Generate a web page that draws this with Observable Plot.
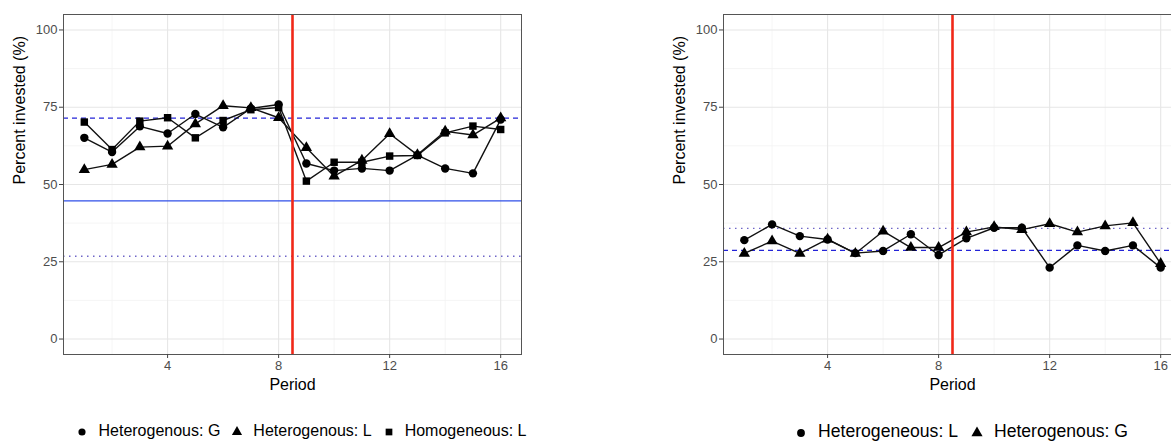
<!DOCTYPE html>
<html>
<head>
<meta charset="utf-8">
<script src="https://cdn.jsdelivr.net/npm/d3@7"></script>
<script src="https://cdn.jsdelivr.net/npm/@observablehq/plot@0.6"></script>
<style>
  html, body { margin: 0; padding: 0; background: white; }
  #wrap { position: relative; width: 1171px; height: 441px; overflow: hidden; font-family: "Liberation Sans", Arial, sans-serif; }
  .fig { position: absolute; top: 0; width: 660px; height: 441px; }
  .legend { position: absolute; left: 0; width: 604px; top: 421px; text-align: center; font-size: 16px; color: #000; white-space: nowrap; line-height: 20px; }
  .legend span.item { display: inline-block; margin: 0 6px; }
  .legend svg { vertical-align: -1px; margin-right: 11px; }
  .legend.big { font-size: 17.6px; }
  .legend.big span.item { margin: 0 7px; }
  .legend.big svg { margin-right: 12px; }
</style>
</head>
<body>
<div id="wrap"></div>
<script>
// ---- data ----
const periods = [1,2,3,4,5,6,7,8,9,10,11,12,13,14,15,16];

// Left panel
const leftNames = ["Heterogenous: G", "Heterogenous: L", "Homogeneous: L"];
const leftHetG = [65.1, 60.5, 68.8, 66.5, 72.8, 68.5, 74.6, 75.9, 56.8, 54.5, 55.2, 54.5, 59.5, 55.2, 53.6, 71.0];
const leftHetL = [54.8, 56.5, 62.1, 62.4, 69.6, 75.5, 74.8, 71.6, 61.9, 52.7, 57.8, 66.4, 59.6, 67.2, 66.0, 71.5];
const leftHomL = [70.2, 61.3, 70.5, 71.6, 65.1, 70.7, 74.2, 74.9, 51.1, 57.2, 57.2, 59.2, 59.4, 66.7, 68.9, 67.8];
const leftDashed = 71.5;
const leftSolid = 44.7;
const leftDotted = 26.8;

// Right panel
const rightNames = ["Heterogeneous: L", "Heterogenous: G"];
const rightHetL = [32.0, 37.1, 33.3, 32.2, 27.8, 28.5, 33.9, 27.2, 32.6, 36.0, 36.0, 23.1, 30.3, 28.5, 30.3, 23.1];
const rightHetG = [27.7, 31.7, 27.7, 32.3, 27.7, 34.9, 29.6, 29.6, 34.6, 36.3, 35.4, 37.3, 34.6, 36.6, 37.6, 24.4];
const rightDotted = 35.8;
const rightDashed = 28.7;

const breakPeriod = 8.5;
const xMajor = [4, 8, 12, 16];
const xMinor = [2, 6, 10, 14];
const yMajor = [0, 25, 50, 75, 100];
const yMinor = [12.5, 37.5, 62.5, 87.5];
const symbolsAll = ["circle", "triangle", "square"];
const xTitle = "Period";
const yTitle = "Percent invested (%)";

function build(names, seriesList, hlines) {
  const data = [];
  names.forEach((n, i) => periods.forEach((p, j) => data.push({series: n, period: p, value: seriesList[i][j]})));
  const marks = [
    Plot.ruleY(yMinor, {stroke: "#f2f2f2", strokeWidth: 0.8}),
    Plot.ruleX(xMinor, {stroke: "#f2f2f2", strokeWidth: 0.8}),
    Plot.ruleY(yMajor, {stroke: "#e6e6e6", strokeWidth: 1.1}),
    Plot.ruleX(xMajor, {stroke: "#e6e6e6", strokeWidth: 1.1}),
  ];
  hlines.forEach(h => marks.push(Plot.ruleY([h.v], {stroke: h.c, strokeWidth: h.w, strokeDasharray: h.d})));
  marks.push(
    Plot.line(data, {x: "period", y: "value", z: "series", stroke: "#111", strokeWidth: 1.4}),
    Plot.dot(data, {x: "period", y: "value", symbol: "series", fill: "#000", r: 4.2}),
    Plot.ruleX([breakPeriod], {stroke: "#f02818", strokeWidth: 2.6}),
    Plot.frame({stroke: "#555", strokeWidth: 1}),
    Plot.axisX(xMajor, {tickSize: 4, tickPadding: 2, fontSize: 13, color: "#4d4d4d", stroke: "#444", label: null}),
    Plot.axisY(yMajor, {tickSize: 4, tickPadding: 2, fontSize: 13, color: "#4d4d4d", stroke: "#444", label: null}),
    Plot.text([xTitle], {text: d => d, frameAnchor: "bottom", dy: 35, fontSize: 16, fill: "#000"}),
    Plot.text([yTitle], {text: d => d, frameAnchor: "left", dx: -44, rotate: -90, fontSize: 16, fill: "#000"})
  );
  return Plot.plot({
    width: 660, height: 400,
    marginTop: 14, marginBottom: 46, marginLeft: 63, marginRight: 139,
    x: {domain: [0.25, 16.75]},
    y: {domain: [-5, 105]},
    symbol: {domain: names, range: symbolsAll.slice(0, names.length)},
    style: {fontFamily: "Liberation Sans, Arial, sans-serif", background: "white", overflow: "visible"},
    marks
  });
}

function legend(names, big) {
  const div = document.createElement("div");
  div.className = big ? "legend big" : "legend";
  const k = big ? 1.2 : 1;
  names.forEach((n, i) => {
    const item = document.createElement("span");
    item.className = "item";
    const path = d3.symbol(d3[{circle: "symbolCircle", triangle: "symbolTriangle", square: "symbolSquare"}[symbolsAll[i]]], (i === 0 ? 40 : 45) * k)();
    item.innerHTML = `<svg width="10" height="10" viewBox="-5 -5 10 10" style="overflow:visible"><path d="${path}" fill="#000"></path></svg>${n}`;
    div.appendChild(item);
  });
  return div;
}

const wrap = document.getElementById("wrap");
const figs = [
  {left: 0, big: false, names: leftNames, series: [leftHetG, leftHetL, leftHomL], hl: [
    {v: leftDashed, c: "#2424d8", w: 1.2, d: "5,4"},
    {v: leftSolid, c: "#2f4fe8", w: 1.3, d: null},
    {v: leftDotted, c: "#6f66c8", w: 1.4, d: "1.5,4.5"}
  ]},
  {left: 660, big: true, names: rightNames, series: [rightHetL, rightHetG], hl: [
    {v: rightDotted, c: "#6f66c8", w: 1.4, d: "1.5,4.5"},
    {v: rightDashed, c: "#2424d8", w: 1.2, d: "5,4"}
  ]}
];
figs.forEach(f => {
  const fig = document.createElement("div");
  fig.className = "fig";
  fig.style.left = f.left + "px";
  fig.appendChild(build(f.names, f.series, f.hl));
  fig.appendChild(legend(f.names, f.big));
  wrap.appendChild(fig);
});
</script>
</body>
</html>
